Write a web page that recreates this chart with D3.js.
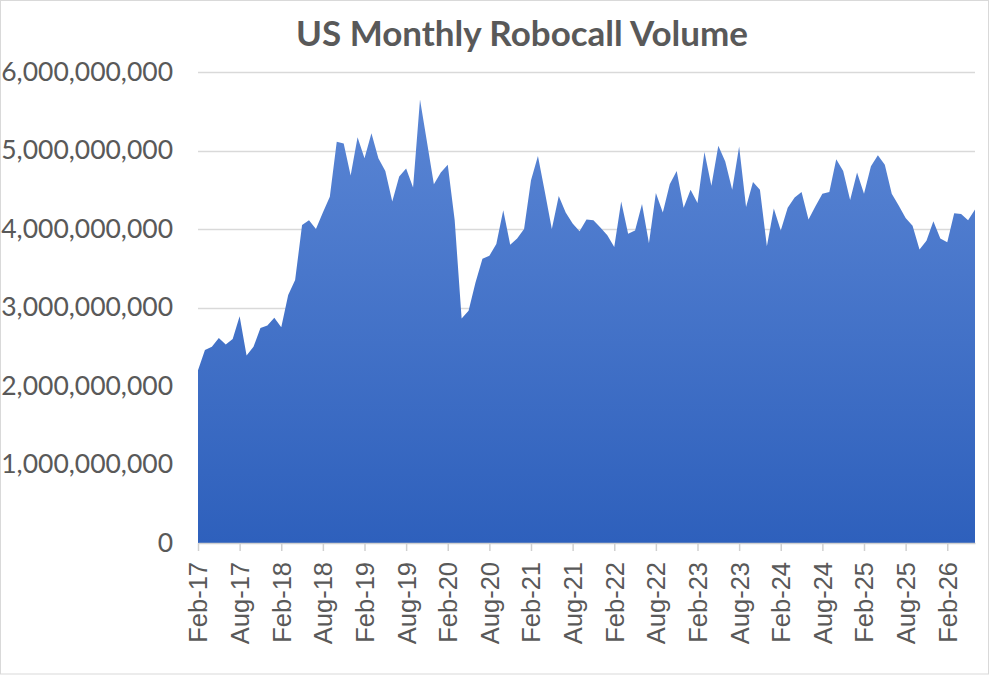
<!DOCTYPE html>
<html>
<head>
<meta charset="utf-8">
<script src="https://cdn.jsdelivr.net/npm/d3@7"></script>
<style>
  body { margin: 0; background: #fff; }
  svg { display: block; }
</style>
</head>
<body>
<script>
  var w = 990;
  var h = 675;
  var margin = { top: 72, right: 15, bottom: 132, left: 198 };

  // monthly robocalls, Feb-17 .. Jun-26 (billions)
  var volumes = [
    2.20, 2.46, 2.50, 2.61, 2.53, 2.60, 2.89, 2.39, 2.50, 2.74, 2.77, 2.87,
    2.75, 3.16, 3.35, 4.05, 4.11, 4.00, 4.21, 4.41, 5.11, 5.09, 4.68, 5.17,
    4.90, 5.22, 4.90, 4.74, 4.35, 4.67, 4.77, 4.53, 5.65, 5.11, 4.57, 4.72,
    4.82, 4.11, 2.86, 2.96, 3.32, 3.62, 3.66, 3.81, 4.24, 3.80, 3.88, 4.00,
    4.62, 4.93, 4.47, 4.00, 4.42, 4.21, 4.07, 3.97, 4.12, 4.11, 4.02, 3.92,
    3.77, 4.35, 3.94, 3.98, 4.32, 3.82, 4.46, 4.21, 4.57, 4.74, 4.27, 4.50,
    4.33, 4.98, 4.55, 5.06, 4.86, 4.50, 5.05, 4.28, 4.60, 4.50, 3.78, 4.26,
    3.98, 4.27, 4.40, 4.47, 4.12, 4.29, 4.45, 4.47, 4.89, 4.74, 4.37, 4.72,
    4.45, 4.80, 4.94, 4.82, 4.45, 4.30, 4.14, 4.04, 3.74, 3.85, 4.10, 3.88,
    3.83, 4.20, 4.19, 4.11, 4.25
  ];
  var tickLabels = ["Feb-17", "Aug-17", "Feb-18", "Aug-18", "Feb-19", "Aug-19",
    "Feb-20", "Aug-20", "Feb-21", "Aug-21", "Feb-22", "Aug-22", "Feb-23",
    "Aug-23", "Feb-24", "Aug-24", "Feb-25", "Aug-25", "Feb-26"];
  var yTicks = [0, 1e9, 2e9, 3e9, 4e9, 5e9, 6e9];

  var svg = d3.select("body").append("svg")
    .attr("width", w)
    .attr("height", h);

  // chart frame
  svg.append("rect")
    .attr("x", 0.5).attr("y", 0.5)
    .attr("width", w - 2).attr("height", h - 1.5)
    .attr("fill", "#fff")
    .attr("stroke", "#d9d9d9");

  var xScale = d3.scaleLinear()
    .domain([0, volumes.length - 1])
    .range([margin.left, w - margin.right]);

  var yScale = d3.scaleLinear()
    .domain([0, 6e9])
    .range([h - margin.bottom, margin.top]);

  var grad = svg.append("defs").append("linearGradient")
    .attr("id", "fill")
    .attr("gradientUnits", "userSpaceOnUse")
    .attr("x1", 0).attr("x2", 0)
    .attr("y1", yScale(6e9)).attr("y2", yScale(0));
  grad.append("stop").attr("offset", "0%").attr("stop-color", "#5d88d6");
  grad.append("stop").attr("offset", "100%").attr("stop-color", "#2e60bc");

  // gridlines
  svg.append("g")
    .selectAll("line")
    .data(yTicks.slice(1))
    .enter()
    .append("line")
    .attr("x1", margin.left)
    .attr("x2", w - margin.right)
    .attr("y1", function (d) { return Math.round(yScale(d)) + 0.5; })
    .attr("y2", function (d) { return Math.round(yScale(d)) + 0.5; })
    .attr("stroke", "#d9d9d9")
    .attr("stroke-width", 1.3);

  var area = d3.area()
    .x(function (d, i) { return xScale(i); })
    .y0(yScale(0))
    .y1(function (d) { return yScale(d * 1e9); });

  svg.append("path")
    .datum(volumes)
    .attr("d", area)
    .attr("fill", "url(#fill)");

  // y axis labels
  var yAxis = d3.axisLeft(yScale)
    .tickValues(yTicks)
    .tickFormat(d3.format(","))
    .tickSize(0)
    .tickPadding(25);

  svg.append("g")
    .attr("transform", "translate(" + margin.left + ",0)")
    .call(yAxis)
    .call(function (g) {
      g.select(".domain").remove();
      g.selectAll("text")
        .attr("fill", "#595959")
        .attr("font-family", "Lato, sans-serif")
        .attr("font-size", 26.5);
    });

  // x axis
  var xAxis = d3.axisBottom(xScale)
    .tickValues(tickLabels.map(function (d, i) { return i * 6; }))
    .tickFormat(function (d, i) { return tickLabels[i]; })
    .tickSizeOuter(0)
    .tickSizeInner(8);

  svg.append("g")
    .attr("transform", "translate(0," + yScale(0) + ")")
    .call(xAxis)
    .call(function (g) {
      g.select(".domain").attr("stroke", "#d0d0d0").attr("stroke-width", 1.5);
      g.selectAll(".tick line").attr("stroke", "#d0d0d0").attr("stroke-width", 1.5);
      g.selectAll("text")
        .attr("fill", "#595959")
        .attr("font-family", "'Liberation Sans', Arial, sans-serif")
        .attr("font-size", 25.5)
        .attr("text-anchor", "end")
        .attr("transform", "rotate(-90)")
        .attr("x", -19)
        .attr("y", 0)
        .attr("dy", "0.35em");
    });

  // title
  svg.append("text")
    .attr("x", 522)
    .attr("y", 46)
    .attr("text-anchor", "middle")
    .attr("fill", "#595959")
    .attr("font-family", "Lato, sans-serif")
    .attr("font-weight", "bold")
    .attr("font-size", 35)
    .text("US Monthly Robocall Volume");
</script>
</body>
</html>
